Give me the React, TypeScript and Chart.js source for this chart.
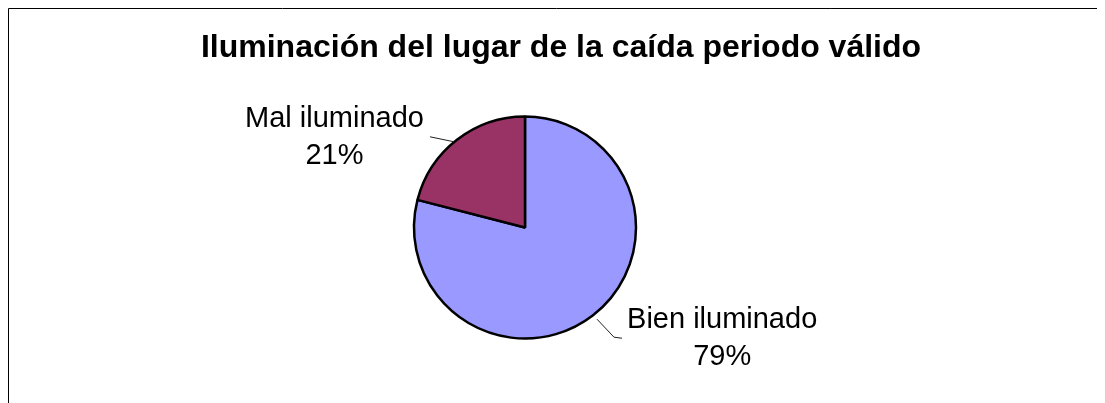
import React, { useEffect, useRef } from "react";
import { Chart, registerables } from "chart.js";

Chart.register(...registerables);

const titleText = "Iluminación del lugar de la caída periodo válido";
const categories = ["Bien iluminado", "Mal iluminado"];
const values = [79, 21];
const sliceColors = ["#9999FF", "#993366"];

// leader line shapes (offsets from the slice's outer edge at mid-angle) and label side
const labelStyles = [
  { leader: [[4, 4], [21, 22], [29, 23]], side: "right" },
  { leader: [[-3, 2], [-27, -3]], side: "left" },
];

const FONT = '"Liberation Sans", Arial, Helvetica, sans-serif';

const framePlugin = {
  id: "frame",
  beforeDraw(chart: any) {
    const { ctx, width, height } = chart;
    ctx.save();
    ctx.fillStyle = "#fff";
    ctx.fillRect(0, 0, width, height);
    ctx.strokeStyle = "#000";
    ctx.lineWidth = 1;
    ctx.beginPath();
    ctx.moveTo(0.5, height);
    ctx.lineTo(0.5, 0.5);
    ctx.lineTo(width, 0.5);
    ctx.stroke();
    ctx.restore();
  },
};

const labelPlugin = {
  id: "pieLabels",
  afterDraw(chart: any) {
    const { ctx } = chart;
    // title
    ctx.save();
    ctx.fillStyle = "#000";
    ctx.font = `bold 32px ${FONT}`;
    ctx.textAlign = "center";
    ctx.textBaseline = "alphabetic";
    ctx.fillText(titleText, 553, 49);
    ctx.restore();

    const meta = chart.getDatasetMeta(0);
    const total = values.reduce((a, b) => a + b, 0);
    meta.data.forEach((arc: any, i: number) => {
      const { x, y, startAngle, endAngle, outerRadius } = arc.getProps(
        ["x", "y", "startAngle", "endAngle", "outerRadius"],
        true
      );
      const mid = (startAngle + endAngle) / 2;
      const ex = x + Math.cos(mid) * outerRadius;
      const ey = y + Math.sin(mid) * outerRadius;
      const st = labelStyles[i];
      ctx.save();
      ctx.strokeStyle = "#222";
      ctx.lineWidth = 1;
      ctx.beginPath();
      st.leader.forEach((p: number[], k: number) => {
        const px = ex + p[0];
        const py = ey + p[1];
        if (k === 0) ctx.moveTo(px, py);
        else ctx.lineTo(px, py);
      });
      ctx.stroke();
      const last = st.leader[st.leader.length - 1];
      const lx = ex + last[0];
      const ly = ey + last[1];
      const lines = [categories[i], `${Math.round((values[i] / total) * 100)}%`];
      ctx.font = `29px ${FONT}`;
      ctx.fillStyle = "#000";
      ctx.textAlign = "center";
      ctx.textBaseline = "alphabetic";
      const w = Math.max(...lines.map((t) => ctx.measureText(t).width));
      const cx = st.side === "left" ? lx - 6 - w / 2 : lx + 5 + w / 2;
      lines.forEach((t, k) => ctx.fillText(t, cx, ly - 10 + k * 37));
      ctx.restore();
    });
  },
};

export default function App() {
  const ref = useRef<HTMLCanvasElement | null>(null);
  useEffect(() => {
    if (!ref.current) return;
    const chart = new Chart(ref.current, {
      type: "pie",
      data: {
        labels: categories,
        datasets: [
          {
            data: values,
            backgroundColor: sliceColors,
            borderColor: "#000",
            borderWidth: 2.5,
            radius: 111,
          } as any,
        ],
      },
      options: {
        animation: false,
        responsive: true,
        maintainAspectRatio: false,
        layout: { padding: { left: 317, right: 380, top: 100, bottom: 56 } },
        plugins: {
          legend: { display: false },
          title: { display: false },
          tooltip: { enabled: false },
        },
      },
      plugins: [framePlugin, labelPlugin],
    });
    return () => chart.destroy();
  }, []);
  return (
    <div style={{ width: 1097, height: 395, position: "relative" }}>
      <canvas ref={ref} />
    </div>
  );
}
